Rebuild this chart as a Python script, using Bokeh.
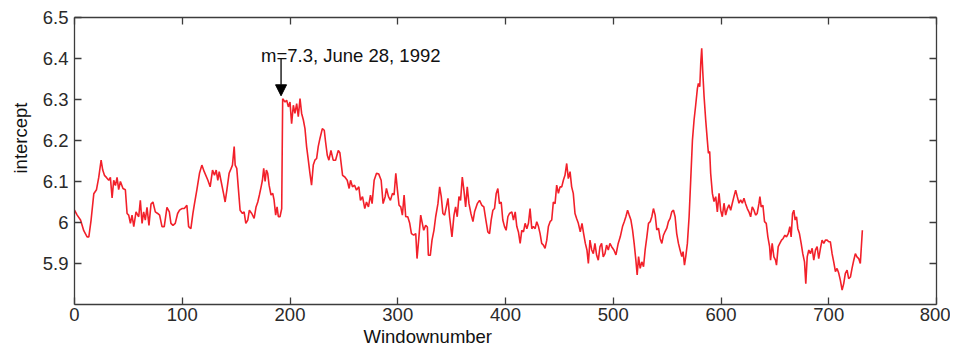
import math
from bokeh.plotting import figure
from bokeh.models import (LinearAxis, FixedTicker, CustomJSTickFormatter, Label, Title,
                          Arrow, NormalHead, Range1d)
from bokeh.embed import file_html
from bokeh.resources import INLINE

# ---- data ----
window_number = [
    0, 2.5, 5.6, 8.6, 11.7, 13.3, 15.4, 17.9, 20.4, 22.5, 24.7, 26.2, 27.8, 29.6, 31.8, 33.3, 34.9, 36.4, 38, 39.5,
    41, 42.6, 45, 47.2, 48.8, 50.3, 51.9, 53.4, 55, 57.1, 59.6, 61.1, 62.7, 64.2, 65.7, 67.3, 69.1, 71, 72.8, 75,
    77.2, 79, 81.2, 83.3, 85.8, 88, 89.5, 91.4, 93.5, 95.7, 97.5, 99.7, 101.9, 104.3, 105.9, 108, 109.9, 111.1,
    113.6, 116, 118.2, 120.4,
    123.8, 125.9, 128.1, 129.9, 131.5, 133, 134.3, 136.1, 138.3, 139.8, 141.4, 143.5, 145.4, 146.6, 148.2, 149.1,
    150.6, 152.2, 153.7, 155.9, 157.4, 159, 160.8, 162.3, 164.5, 166.7, 168.5, 170.1, 171.6, 173.2, 174.4, 175.6,
    176.9, 178.1, 179.3, 180.6, 182.4, 184, 185.2, 186.7, 188, 189.2, 190.7, 192.3, 193.2, 195.4, 196.9, 198.5,
    200, 201.5, 203.1, 204.6, 206.2, 207.7, 209.3, 210.8, 212.4, 213.9, 215.4, 217, 218.5, 220, 221.6, 223.1,
    224.7, 226.2, 227.8, 230, 231.8, 233, 234.6, 236.1, 238, 240.1, 242.3, 244.8, 246.3,
    248.8, 250.9, 253.1, 254.9, 256.2, 258, 259.9, 261.7, 263.9, 265.4, 267.3, 269.4, 271, 272.8, 274.7, 276.2,
    278.1, 280.3, 282.4, 284.6, 286.4, 288.3, 289.5, 291.4, 293.2, 295.1, 296.6, 298.2, 299.7, 301.2, 302.8,
    304.3, 305.9, 307.4, 309.3, 311.1, 312.7, 314.8, 316.7, 317.9, 319.4, 321.3, 322.8, 324.1, 325.9, 327.5,
    328.4, 330.2, 331.8, 333.6, 335.2, 337.3, 338.9, 340.4, 341.9, 343.5, 345.1, 346.6, 348.1, 350.3, 352.2,
    353.7, 355.2, 356.8, 358.3, 359.9, 361.4, 363, 364.5, 366.1, 367.9, 369.8,
    371.3, 373.8, 375.9, 378.1, 379.9, 381.8, 383.6, 385.2, 386.7, 388.3, 389.8, 391.4, 392.9, 394.4, 396, 397.5,
    399.1, 400.6, 402.2, 403.7, 405.9, 407.4, 409, 410.5, 412, 413.6, 415.1, 416.7, 418.2, 419.8, 421.3, 422.8,
    424.4, 425.9, 427.5, 429, 430.6, 432.1, 433.6, 435.2, 436.7, 438.3, 439.8, 441.4, 442.9, 444.4, 446, 447.5,
    449.1, 450.6, 452.2, 453.7, 455.2, 456.8, 458.3, 459.9, 461.4, 462.9, 464.5, 466, 467.6, 469.4, 471, 472.5,
    474.1, 475.6, 476.9, 478.4, 480, 481.5, 483, 484.6, 486.1, 487.7, 489.2, 490.7, 492.3, 493.8, 495.4, 496.9,
    498.5,
    500.6, 502.5, 504.6, 506.5, 508.6, 510.2, 511.7, 513.3, 514.8, 516.4, 517.9, 519.4, 521, 522.2, 523.5, 525,
    526.5, 528.1, 529.6, 531.2, 532.7, 534.3, 535.8, 537.3, 538.9, 540.4, 542, 543.5, 545.1, 546.6, 548.1, 549.7,
    551.2, 552.8, 554.3, 555.9, 557.4, 558.9, 560.5, 562, 563.6, 564.8, 566.1, 567.3, 568.8, 570.4, 571.9, 573.5,
    575, 576.5, 578.1, 579, 580.3, 581.2, 582.1, 583, 584.3, 585.8, 587.3, 588.3, 589.5, 590.4, 592, 593.5, 595.1,
    596.6, 598.2, 599.7, 601.2, 602.8, 604.3, 605.9, 607.4, 609, 610.5, 612, 613.6, 615.1, 616.7, 618.2, 619.8,
    621.3, 622.8, 624.4, 625.9, 627.5, 629, 630.6, 632.1, 633.6, 635.2, 636.1, 637.3, 638.9, 640.4, 642, 643.5,
    645.1, 646, 647.5, 649.1, 650.6, 651.5, 653.1, 654.6, 656.2, 657.7, 659.3, 660.8, 662.4, 663.9, 665.1, 666.4,
    667.6, 668.8, 670.1, 671.3, 672.8, 674.4, 675.9, 677.5, 678.7, 680, 681.5, 683, 684.6, 686.1, 687.7, 689.2,
    690.7, 692.3, 693.8, 695.4, 696.9, 698.5, 700, 701.5, 703.1, 704.6, 706.2, 707.7, 709.3, 710.8, 712.4, 713.9,
    715.4, 717, 718.5, 720.1, 721.6, 723.2, 724.7, 726.2, 727.8, 729.3, 731.2,
]

intercept = [
    6.03, 6.018, 6.006, 5.98, 5.965, 5.965, 6.006, 6.07, 6.08, 6.11, 6.152, 6.128, 6.115, 6.11, 6.103, 6.11, 6.06,
    6.103, 6.09, 6.11, 6.08, 6.1, 6.083, 6.08, 6.022, 6.018, 5.998, 6.018, 5.99, 6.026, 6.014, 6.054, 5.998, 6.026,
    6.006, 6.037, 5.993, 6.045, 6.05, 6.026, 6.022, 6.018, 5.99, 5.99, 6.037, 6.026, 5.998, 5.993, 5.998, 6.022,
    6.03, 6.034, 6.034, 6.042, 5.99, 5.985, 6.022, 6.042, 6.08, 6.12, 6.14, 6.124,
    6.103, 6.087, 6.128, 6.115, 6.128, 6.103, 6.124, 6.1, 6.071, 6.05, 6.079, 6.12, 6.132, 6.14, 6.185, 6.14,
    6.132, 6.079, 6.03, 6.022, 6.026, 5.998, 6.006, 6.03, 6.022, 6.01, 6.038, 6.05, 6.067, 6.087, 6.103, 6.132,
    6.1, 6.128, 6.12, 6.091, 6.067, 6.071, 6.055, 6.018, 6.038, 6.014, 6.014, 6.034, 6.302, 6.294, 6.298, 6.282,
    6.294, 6.241, 6.286, 6.266, 6.29, 6.258, 6.302, 6.266, 6.25, 6.229, 6.185, 6.152, 6.12, 6.091, 6.14, 6.152,
    6.156, 6.185, 6.205, 6.229, 6.225, 6.197, 6.164, 6.152, 6.176, 6.152, 6.152, 6.176, 6.17,
    6.115, 6.111, 6.103, 6.083, 6.103, 6.087, 6.091, 6.079, 6.087, 6.054, 6.063, 6.034, 6.05, 6.038, 6.067, 6.046,
    6.103, 6.12, 6.118, 6.103, 6.046, 6.063, 6.083, 6.063, 6.054, 6.071, 6.067, 6.12, 6.079, 6.042, 6.038,
    6.018, 6.067, 6.014, 6.014, 5.998, 5.973, 5.969, 5.973, 5.912, 5.957, 6.018, 5.998, 5.981, 5.993, 5.989,
    5.92, 5.92, 5.957, 5.981, 6.014, 6.046, 6.087, 6.063, 6.022, 6.018, 6.038, 6.059, 6.014, 5.965, 6.018,
    6.038, 6.014, 6.063, 6.054, 6.111, 6.079, 6.038, 6.087, 6.046, 6.022, 6.002,
    6.026, 6.046, 6.054, 6.042, 6.038, 6.006, 5.977, 5.973, 6.006, 6.03, 6.034, 6.071, 6.083, 6.046, 6.05, 6.006,
    5.99, 5.981, 6.014, 6.022, 6.026, 6.006, 6.026, 5.99, 5.977, 5.949, 5.981, 5.977, 5.998, 5.985, 5.998, 6.034,
    5.985, 5.99, 5.985, 6.002, 5.99, 5.973, 5.949, 5.945, 5.937, 5.957, 5.99, 6.002, 6.006, 6.05, 6.046, 6.091,
    6.071, 6.087, 6.087, 6.103, 6.115, 6.144, 6.107, 6.124, 6.087, 6.071, 6.022, 6.01, 5.998, 5.977, 5.998, 5.973,
    5.949, 5.933, 5.9, 5.957, 5.933, 5.924, 5.949, 5.92, 5.908, 5.941, 5.949, 5.916, 5.924, 5.945, 5.933, 5.949,
    5.941,
    5.933, 5.921, 5.949, 5.965, 5.99, 6.002, 6.014, 6.03, 6.018, 6.006, 5.982, 5.949, 5.908, 5.872, 5.917, 5.888,
    5.904, 5.892, 5.933, 5.965, 5.998, 6.002, 6.014, 6.034, 6.018, 5.982, 5.986, 5.961, 5.949, 5.969, 5.978, 5.986,
    6.002, 6.01, 6.026, 6.03, 6.014, 5.973, 5.949, 5.933, 5.917, 5.929, 5.896, 5.917, 5.949, 6.014, 6.104, 6.201,
    6.25, 6.286, 6.327, 6.339, 6.331, 6.388, 6.425, 6.372, 6.307, 6.25, 6.201, 6.169, 6.173, 6.12, 6.071, 6.051,
    6.063, 6.026, 6.071, 6.03, 6.014, 6.047, 6.018, 6.034, 6.043, 6.03, 6.047, 6.063, 6.079, 6.063, 6.047, 6.055,
    6.047,
    6.059, 6.046, 6.034, 6.026, 6.014, 6.038, 6.03, 6.018, 6.022, 6.046, 6.063, 6.038, 6.042, 6.002, 5.998, 5.965,
    5.941, 5.908, 5.949, 5.916, 5.908, 5.896, 5.941, 5.949, 5.957, 5.961, 5.969, 5.965, 5.973, 5.99, 5.965, 6.022,
    6.03, 6.006, 6.014, 5.985, 5.973, 5.949, 5.924, 5.904, 5.851, 5.916, 5.933, 5.924, 5.937, 5.908, 5.933, 5.941,
    5.912, 5.937, 5.957, 5.949, 5.957, 5.957, 5.953, 5.953, 5.924, 5.904, 5.88, 5.888, 5.876, 5.859, 5.835, 5.851,
    5.876, 5.884, 5.863, 5.867, 5.888, 5.908, 5.924, 5.916, 5.912, 5.9, 5.981,
]

x_ticks = [0, 100, 200, 300, 400, 500, 600, 700, 800]
y_ticks = [5.9, 6.0, 6.1, 6.2, 6.3, 6.4, 6.5]
x_label = "Windownumber"
y_label = "intercept"
event_text = "m=7.3, June 28, 1992"
event_window = 191.7
arrow_top = 6.401
arrow_tip = 6.309

FONT = "Liberation Sans"
TXT = "#2a2a2a"
AX = "#3c3c3c"
FS = "18.5px"

p = figure(width=950, height=351, output_backend="svg", toolbar_location=None,
           x_range=Range1d(0, 800), y_range=Range1d(5.8, 6.5),
           x_axis_location=None, y_axis_location=None,
           min_border_left=74, min_border_right=14, min_border_top=17, min_border_bottom=47)
p.grid.visible = False
p.outline_line_color = None
p.background_fill_color = "white"
p.border_fill_color = "white"

fmt = CustomJSTickFormatter(code="return String(Math.round(tick*10)/10);")


def style_axis(ax, ticks, show_labels, standoff=6):
    ax.ticker = FixedTicker(ticks=ticks)
    ax.major_tick_in = 7
    ax.major_tick_out = 0
    ax.minor_tick_line_color = None
    ax.axis_line_color = AX
    ax.axis_line_width = 1.3
    ax.major_tick_line_color = AX
    ax.major_tick_line_width = 1.3
    if show_labels:
        ax.formatter = fmt
        ax.major_label_text_font = FONT
        ax.major_label_text_font_size = FS
        ax.major_label_text_color = TXT
        ax.major_label_standoff = standoff
    else:
        ax.major_label_text_font_size = "0px"
        ax.major_label_standoff = 0
        ax.major_label_text_alpha = 0


bottom = LinearAxis()
style_axis(bottom, x_ticks, True, standoff=3)
left = LinearAxis()
style_axis(left, y_ticks, True, standoff=6)
top = LinearAxis()
style_axis(top, x_ticks, False)
right = LinearAxis()
style_axis(right, y_ticks, False)
p.add_layout(bottom, "below")
p.add_layout(left, "left")
p.add_layout(top, "above")
p.add_layout(right, "right")

# axis titles as Titles (they sit off-centre in the reference)
p.add_layout(Title(text=x_label, align="left", offset=289, standoff=0, vertical_align="bottom",
                   text_font=FONT, text_font_size=FS, text_font_style="normal",
                   text_color="#111111"), "below")
p.add_layout(Title(text=y_label, align="left", offset=131, standoff=14, vertical_align="top",
                   text_font=FONT, text_font_size=FS, text_font_style="normal",
                   text_color="#111111"), "left")

p.line(window_number, intercept, line_color="#f2202a", line_width=1.6)

p.add_layout(Arrow(end=NormalHead(size=11, fill_color="black", line_color="black"),
                   x_start=event_window, y_start=arrow_top, x_end=event_window, y_end=arrow_tip,
                   line_color="black", line_width=1.3))

p.add_layout(Label(x=173.1, y=6.4085, text=event_text, text_font=FONT, text_font_size=FS,
                   text_color="#111111", text_baseline="alphabetic", text_align="left"))

open("out.html", "w").write(file_html(p, INLINE))
